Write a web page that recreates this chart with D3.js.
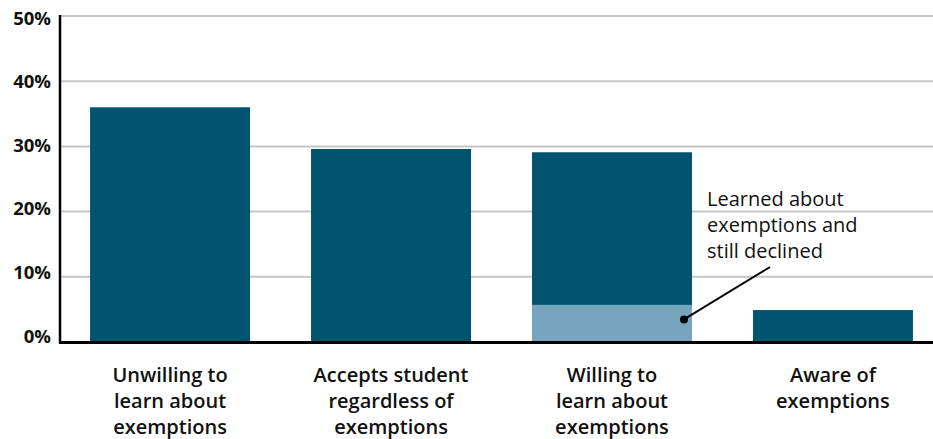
<!DOCTYPE html>
<html>
<head>
<meta charset="utf-8">
<script src="https://cdn.jsdelivr.net/npm/d3@7"></script>
<style>
  html, body { margin: 0; padding: 0; background: #fff; }
  svg { display: block; font-family: "Open Sans", "Noto Sans", sans-serif; }
</style>
</head>
<body>
<svg id="chart" width="933" height="439"></svg>
<script>
// Share of respondents by stance on exemptions
const categories = [
  ["Unwilling to", "learn about", "exemptions"],
  ["Accepts student", "regardless of", "exemptions"],
  ["Willing to", "learn about", "exemptions"],
  ["Aware of", "exemptions"]
];
const totals = [36.0, 29.6, 29.1, 4.9];
// Part of each bar that learned about exemptions and still declined
const declined = [0, 0, 5.7, 0];
const yTicks = [0, 10, 20, 30, 40, 50];
const annotationLines = ["Learned about", "exemptions and", "still declined"];

const dark = "#01546f";
const light = "#76a5bd";

const svg = d3.select("#chart");
const plotLeft = 60, plotRight = 933, plotTop = 16, plotBottom = 342;

const x = d3.scaleBand()
  .domain(d3.range(categories.length))
  .range([plotLeft, 943])
  .paddingInner(0.276)
  .paddingOuter(0.136);

const y = d3.scaleLinear().domain([0, 50]).range([plotBottom, plotTop]);
// Tick labels sit in a slightly tighter column than the gridlines
const yLabel = d3.scaleLinear().domain([0, 50]).range([336, 18]);

// Gridlines
svg.append("g")
  .selectAll("line")
  .data(yTicks.filter(d => d > 0))
  .join("line")
  .attr("x1", plotLeft).attr("x2", plotRight)
  .attr("y1", d => y(d)).attr("y2", d => y(d))
  .attr("stroke", "#c6c6c6").attr("stroke-width", 2);

// Y tick labels
svg.append("g")
  .selectAll("text")
  .data(yTicks)
  .join("text")
  .attr("x", 51)
  .attr("y", d => yLabel(d))
  .attr("dy", "0.36em")
  .attr("text-anchor", "end")
  .attr("font-size", 18.5)
  .attr("font-weight", 700)
  .attr("fill", "#111")
  .text(d => d + "%");

// Bars: full total in dark, declined portion in light at the base
const bars = svg.append("g");
bars.selectAll("rect.total")
  .data(totals)
  .join("rect")
  .attr("class", "total")
  .attr("x", (d, i) => x(i))
  .attr("width", x.bandwidth())
  .attr("y", d => y(d))
  .attr("height", d => y(0) - y(d))
  .attr("fill", dark);

bars.selectAll("rect.declined")
  .data(declined)
  .join("rect")
  .attr("class", "declined")
  .attr("x", (d, i) => x(i))
  .attr("width", x.bandwidth())
  .attr("y", d => y(d))
  .attr("height", d => y(0) - y(d))
  .attr("fill", light);

// Axis lines
svg.append("line")
  .attr("x1", plotLeft).attr("x2", plotLeft)
  .attr("y1", plotTop - 1).attr("y2", plotBottom + 1.5)
  .attr("stroke", "#000").attr("stroke-width", 2.5);
svg.append("line")
  .attr("x1", plotLeft - 1).attr("x2", plotRight)
  .attr("y1", plotBottom + 0.5).attr("y2", plotBottom + 0.5)
  .attr("stroke", "#000").attr("stroke-width", 3);

// Category labels
const catG = svg.append("g")
  .selectAll("text")
  .data(categories)
  .join("text")
  .attr("x", (d, i) => x(i) + x.bandwidth() / 2)
  .attr("y", 382)
  .attr("text-anchor", "middle")
  .attr("font-size", 20)
  .attr("font-weight", 600)
  .attr("fill", "#111");
catG.selectAll("tspan")
  .data(d => d)
  .join("tspan")
  .attr("x", function () { return d3.select(this.parentNode).attr("x"); })
  .attr("dy", (d, i) => i === 0 ? 0 : 26)
  .text(d => d);

// Annotation for the declined segment
const idx = declined.findIndex(d => d > 0);
const dotX = x(idx) + x.bandwidth() - 8;
const dotY = y(declined[idx] / 2) - 4;
svg.append("line")
  .attr("x1", dotX).attr("y1", dotY)
  .attr("x2", 770).attr("y2", 267)
  .attr("stroke", "#000").attr("stroke-width", 2);
svg.append("circle")
  .attr("cx", dotX).attr("cy", dotY).attr("r", 4)
  .attr("fill", "#000");

const ann = svg.append("text")
  .attr("x", 707).attr("y", 206)
  .attr("font-size", 20)
  .attr("font-weight", 500)
  .attr("fill", "#111");
ann.selectAll("tspan")
  .data(annotationLines)
  .join("tspan")
  .attr("x", 707)
  .attr("dy", (d, i) => i === 0 ? 0 : 26)
  .text(d => d);
</script>
</body>
</html>
